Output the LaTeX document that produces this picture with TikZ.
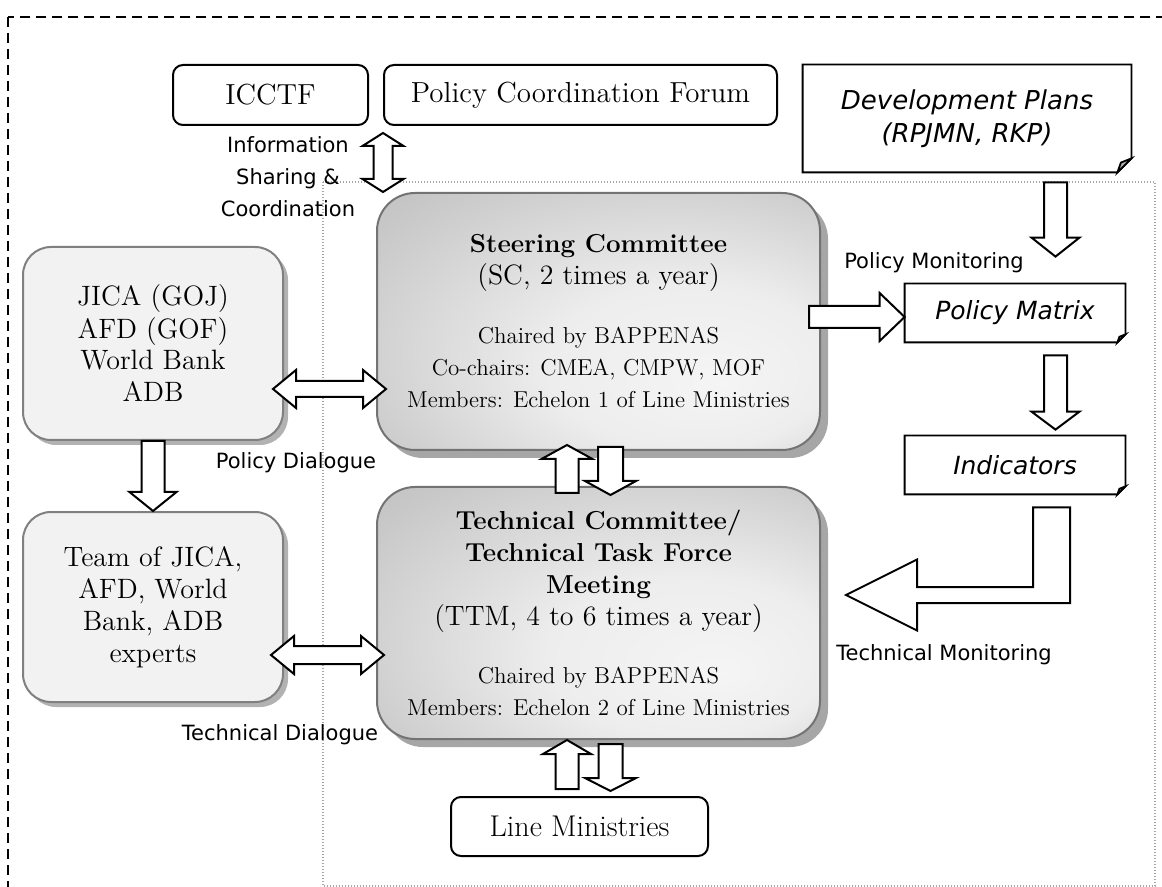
\documentclass[tikz,border=0pt]{standalone}
\usepackage{fontspec}
\setsansfont{DejaVu Sans}
\usetikzlibrary{calc,shadows}

\newlength{\du}
\setlength{\du}{0.5pt}

\pgfdeclareradialshading{panelshade}{\pgfpoint{14bp}{-12bp}}{%
  color(0bp)=(black!4); color(16bp)=(black!7); color(38bp)=(black!22); color(62bp)=(black!34)}

\tikzset{
  roundbox/.style={draw, line width=1pt, rounded corners=5pt, inner sep=0pt,
    font=\fontsize{14.5}{16}\selectfont},
  donorbox/.style={draw=black!50, line width=1pt, fill=black!5, rounded corners=14pt,
    align=center, inner sep=0pt, font=\fontsize{14}{16}\selectfont,
    drop shadow={shadow xshift=2.5pt, shadow yshift=-2.5pt, fill=black!30, opacity=1}},
  panel/.style={draw=black!55, line width=1pt, rounded corners=19pt, shade, shading=panelshade,
    align=center, inner sep=0pt, font=\fontsize{11.5}{16}\selectfont,
    drop shadow={shadow xshift=4pt, shadow yshift=-4pt, fill=black!35, opacity=1}},
  docbox/.style={inner sep=0pt, align=center, font=\sffamily\itshape\fontsize{12.5}{16.5}\selectfont},
  docline/.style={line width=0.9pt},
  blockarrow/.style={draw=black, fill=white, line width=1pt, line join=miter},
  lbl/.style={font=\sffamily\fontsize{10.5}{16}\selectfont, align=center, inner sep=0pt}
}

% block arrows, all sizes in pt
\newcommand{\vdarrow}[5]{% #1 upper tip, #2 lower tip
  \draw[blockarrow] let \p1=#1, \p2=#2 in
    (\x1,\y1) -- (\x1+#4,\y1-#3) -- (\x1+#5,\y1-#3) -- (\x1+#5,\y2+#3) -- (\x1+#4,\y2+#3)
    -- (\x1,\y2) -- (\x1-#4,\y2+#3) -- (\x1-#5,\y2+#3) -- (\x1-#5,\y1-#3) -- (\x1-#4,\y1-#3) -- cycle;}
\newcommand{\hdarrow}[5]{% #1 left tip, #2 right tip
  \draw[blockarrow] let \p1=#1, \p2=#2 in
    (\x1,\y1) -- (\x1+#3,\y1+#4) -- (\x1+#3,\y1+#5) -- (\x2-#3,\y1+#5) -- (\x2-#3,\y1+#4)
    -- (\x2,\y1) -- (\x2-#3,\y1-#4) -- (\x2-#3,\y1-#5) -- (\x1+#3,\y1-#5) -- (\x1+#3,\y1-#4) -- cycle;}
\newcommand{\varrow}[5]{% #1 tail, #2 tip (up or down)
  \draw[blockarrow] let \p1=#1, \p2=#2, \n1={(\y2-\y1)/abs(\y2-\y1)} in
    (\x1-#5,\y1) -- (\x1-#5,{\y2-\n1*#3}) -- (\x1-#4,{\y2-\n1*#3}) -- (\x1,\y2)
    -- (\x1+#4,{\y2-\n1*#3}) -- (\x1+#5,{\y2-\n1*#3}) -- (\x1+#5,\y1) -- cycle;}
\newcommand{\rarrow}[5]{% #1 tail, #2 tip (to the right)
  \draw[blockarrow] let \p1=#1, \p2=#2 in
    (\x1,\y2+#5) -- (\x2-#3,\y2+#5) -- (\x2-#3,\y2+#4) -- (\x2,\y2)
    -- (\x2-#3,\y2-#4) -- (\x2-#3,\y2-#5) -- (\x1,\y2-#5) -- cycle;}
% outline of a document node with folded corner
\newcommand{\docoutline}[2]{%
  \draw[docline] (#1.north west) -- (#1.north east) -- ([yshift=#2]#1.south east)
    -- ([xshift=-#2]#1.south east) -- (#1.south west) -- cycle;
  \filldraw[docline, fill=black!30] ([yshift=#2]#1.south east) -- ([xshift=-#2]#1.south east)
    -- ([xshift=-0.75*#2, yshift=0.7*#2]#1.south east) -- cycle;}

\begin{document}
\begin{tikzpicture}[x=\du, y=-\du]
\useasboundingbox (0,0) rectangle (1162,887);
\clip (0,0) rectangle (1162,887);

% frames
\draw[line width=1pt, dash pattern=on 5pt off 3pt] (8,17) rectangle (1190,910);
\draw[black!35, line width=0.6pt, dash pattern=on 0.6pt off 0.9pt] (323,182) rectangle (1155,886);

% top row
\node[roundbox, minimum width=195\du, minimum height=60\du] (icctf) at (270.5,95) {ICCTF};
\node[roundbox, minimum width=393\du, minimum height=60\du] (forum) at (580.5,95) {Policy Coordination Forum};
\node[docbox, minimum width=328\du, minimum height=107\du, font=\sffamily\itshape\fontsize{13}{16.5}\selectfont]
  (devplans) at (967,118.5) {Development Plans\\(RPJMN, RKP)};
\docoutline{devplans}{7pt}

% donors
\node[donorbox, minimum width=260\du, minimum height=193\du] (jica) at (153,343.5)
  {JICA (GOJ)\\AFD (GOF)\\World Bank\\ADB};
\node[donorbox, minimum width=260\du, minimum height=190\du] (team) at (153,607)
  {Team of JICA,\\AFD, World\\Bank, ADB\\experts};

% committees
\node[panel, minimum width=443\du, minimum height=257\du] (sc) at (598.5,321.5) {%
  {\bfseries\fontsize{13}{16}\selectfont Steering Committee}\\
  {\fontsize{14}{16}\selectfont (SC, 2 times a year)}\\[13.5pt]
  Chaired by BAPPENAS\\
  Co-chairs: CMEA, CMPW, MOF\\
  Members: Echelon 1 of Line Ministries};
\node[panel, minimum width=443\du, minimum height=252\du] (ttm) at (598.5,613) {%
  {\bfseries\fontsize{13}{16}\selectfont Technical Committee/}\\
  {\bfseries\fontsize{13}{16}\selectfont Technical Task Force}\\
  {\bfseries\fontsize{13}{16}\selectfont Meeting}\\
  {\fontsize{14}{16}\selectfont (TTM, 4 to 6 times a year)}\\[13pt]
  Chaired by BAPPENAS\\
  Members: Echelon 2 of Line Ministries};
\node[roundbox, minimum width=257\du, minimum height=59\du, font=\fontsize{15}{16}\selectfont]
  (linemin) at (579.5,826.5) {Line Ministries};

% monitoring documents
\node[docbox, minimum width=220\du, minimum height=58\du] (pmatrix) at (1015,313) {Policy Matrix};
\docoutline{pmatrix}{4pt}
\node[docbox, minimum width=220\du, minimum height=58\du] (indic) at (1015,465) {Indicators};
\docoutline{indic}{4pt}

% arrows
\vdarrow{($(forum.south west)+(0,7)$)}{(forum.south west |- sc.north)}{6.5pt}{10.25pt}{4.75pt}
\hdarrow{($(jica.east)+(-11,45.5)$)}{($(sc.west)+(10,0)$)}{11.5pt}{9.5pt}{4pt}
\hdarrow{($(team.east)+(-13,48)$)}{($(ttm.west)+(8,0)$)}{11.5pt}{9.5pt}{4.5pt}
\varrow{(jica.south)}{(team.north)}{9.5pt}{11.75pt}{5.75pt}
\varrow{($(ttm.north)+(-31.5,7)$)}{($(sc.south)+(-31.5,-6)$)}{7pt}{12.75pt}{5.75pt}
\varrow{($(sc.south)+(12,-4)$)}{($(ttm.north)+(12,9)$)}{7pt}{12.75pt}{6.25pt}
\varrow{($(linemin.north)+(-12.5,-7)$)}{($(ttm.south)+(-31.5,0)$)}{7pt}{12pt}{5.75pt}
\varrow{($(ttm.south)+(12,4)$)}{($(linemin.north)+(30.5,-5)$)}{6.5pt}{12.75pt}{6pt}
\varrow{($(devplans.south)+(88.5,10)$)}{($(pmatrix.north)+(40.5,-27)$)}{9.5pt}{12pt}{5.75pt}
\varrow{($(pmatrix.south)+(40.5,13)$)}{($(indic.north)+(40.5,-6)$)}{9pt}{12pt}{5.75pt}
\rarrow{($(sc.east)+(-12,0)$)}{($(pmatrix.west)+(0,4)$)}{12.5pt}{12pt}{5.5pt}
\draw[blockarrow] let \p1=($(indic.south)+(36.5,13)$), \p2=($(ttm.east)+(25,-18)$) in
  (\x1-9.25pt,\y1) -- (\x1+9.25pt,\y1) -- (\x1+9.25pt,\y2-4pt) -- (\x2+35.5pt,\y2-4pt)
  -- (\x2+35.5pt,\y2-17.75pt) -- (\x2,\y2) -- (\x2+35.5pt,\y2+17.75pt) -- (\x2+35.5pt,\y2+4pt)
  -- (\x1-9.25pt,\y2+4pt) -- cycle;

% labels
\node[lbl] (infolbl) at (288,177) {Information\\Sharing \&\\Coordination};
\node[lbl] (poldlg) at (296,463) {Policy Dialogue};
\node[lbl] (techdlg) at (280,735) {Technical Dialogue};
\node[lbl] (polmon) at (934,263) {Policy Monitoring};
\node[lbl] (techmon) at (944,655) {Technical Monitoring};
\end{tikzpicture}
\end{document}
